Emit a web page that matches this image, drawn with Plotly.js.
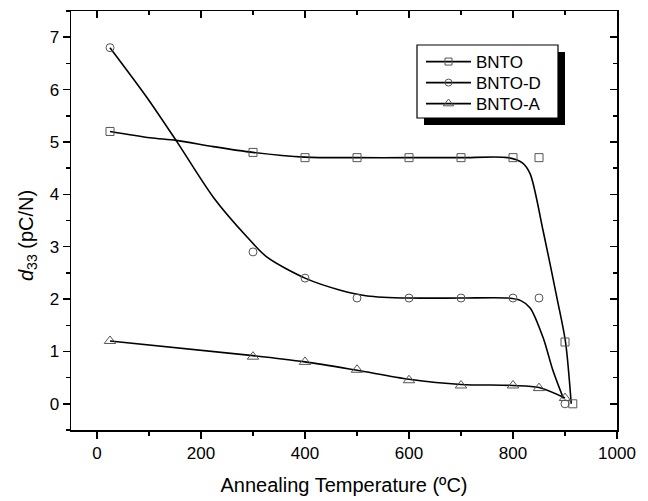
<!DOCTYPE html>
<html>
<head>
<meta charset="utf-8">
<script src="https://cdn.plot.ly/plotly-3.0.1.min.js"></script>
<style>html,body{margin:0;padding:0;background:#fff;}</style>
</head>
<body>
<div id="chart" style="width:648px;height:501px;"></div>
<script>
// Measured data points
var seriesNames = ["BNTO", "BNTO-D", "BNTO-A"];
var bntoX = [25, 300, 400, 500, 600, 700, 800, 850, 900, 915];
var bntoY = [5.2, 4.8, 4.7, 4.7, 4.7, 4.7, 4.7, 4.7, 1.18, 0.0];
var bntoDX = [25, 300, 400, 500, 600, 700, 800, 850, 900];
var bntoDY = [6.8, 2.9, 2.4, 2.02, 2.02, 2.02, 2.02, 2.02, 0.0];
var bntoAX = [25, 300, 400, 500, 600, 700, 800, 850, 900];
var bntoAY = [1.2, 0.9, 0.8, 0.65, 0.45, 0.35, 0.35, 0.3, 0.11];

// Smoothed fit curves
var bntoCurveX = [25, 102, 152, 224, 300, 400, 500, 600, 700, 790, 818, 833, 858, 885, 901, 912];
var bntoCurveY = [5.2, 5.08, 5.03, 4.91, 4.8, 4.71, 4.7, 4.7, 4.7, 4.7, 4.6, 4.39, 3.3, 2.0, 1.18, 0.0];
var bntoDCurveX = [25, 96, 152, 224, 289, 327, 400, 468, 520, 600, 700, 790, 815, 833, 858, 877, 897];
var bntoDCurveY = [6.8, 5.85, 5.03, 3.94, 3.18, 2.8, 2.4, 2.17, 2.06, 2.02, 2.02, 2.02, 1.97, 1.83, 1.26, 0.63, 0.1];
var bntoACurveX = [25, 300, 400, 500, 600, 700, 800, 850, 900];
var bntoACurveY = [1.2, 0.92, 0.8, 0.64, 0.47, 0.37, 0.35, 0.31, 0.11];

var xTitle = "Annealing Temperature (ºC)";
var yTitle = "<i>d</i><sub>33</sub> (pC/N)";

var markerColor = "#555555";
var symbols = ["square-open", "circle-open", "triangle-up-open"];
var sizes = [8, 8, 10];
var pts = [[bntoX, bntoY], [bntoDX, bntoDY], [bntoAX, bntoAY]];
var curves = [[bntoCurveX, bntoCurveY], [bntoDCurveX, bntoDCurveY], [bntoACurveX, bntoACurveY]];
var legendIds = ["legend", "legend2", "legend3"];

var data = [];
for (var i = 0; i < 3; i++) {
  data.push({
    x: curves[i][0], y: curves[i][1], mode: "lines", type: "scatter",
    line: {color: "#000", width: 1.6, shape: "spline", smoothing: 0.8},
    showlegend: false, hoverinfo: "skip"
  });
}
for (var i = 0; i < 3; i++) {
  data.push({
    x: pts[i][0], y: pts[i][1], mode: "markers", type: "scatter",
    marker: {symbol: symbols[i], size: sizes[i], color: markerColor, line: {width: 1, color: markerColor}},
    showlegend: false
  });
}
// legend entries (line-marker-line), one legend per row
for (var i = 0; i < 3; i++) {
  data.push({
    x: [null], y: [null], mode: "lines+markers", type: "scatter", name: seriesNames[i],
    legend: legendIds[i],
    line: {color: "#000", width: 1.8},
    marker: {symbol: symbols[i], size: sizes[i] - 1, color: markerColor, line: {width: 1, color: markerColor}}
  });
}
// dummy trace for top/right axes
data.push({x: [null], y: [null], xaxis: "x2", yaxis: "y2", mode: "markers", showlegend: false, hoverinfo: "skip"});

var xr = [-50, 1000], yr = [-0.5, 7.5];
var font = {family: "Liberation Sans, Arial, sans-serif", size: 17, color: "#000"};

var L = 71, W = 546, T = 11, H = 419;
function px(x) { return (x - L) / W; }
function py(y) { return (T + H - y) / H; }

function legendAt(xpx, ypx) {
  return {
    x: px(xpx), y: py(ypx), xanchor: "left", yanchor: "middle",
    bgcolor: "rgba(0,0,0,0)", borderwidth: 0,
    font: {size: 17}, itemwidth: 45
  };
}

var layout = {
  width: 648, height: 501,
  margin: {l: 71, r: 31, t: 11, b: 71},
  paper_bgcolor: "#fff", plot_bgcolor: "#fff",
  font: font,
  showlegend: true,
  xaxis: {
    range: xr, dtick: 200, tick0: 0, showgrid: false, zeroline: false,
    ticks: "outside", ticklen: 7, tickwidth: 1.5, tickcolor: "#000",
    showline: true, linewidth: 1.5, linecolor: "#000", mirror: true,
    minor: {dtick: 100, tick0: 0, ticks: "outside", ticklen: 4, tickwidth: 1.5, tickcolor: "#000"},
    tickfont: {size: 17},
    title: {text: xTitle, font: {size: 20}, standoff: 16}
  },
  yaxis: {
    range: yr, dtick: 1, tick0: 0, showgrid: false, zeroline: false,
    ticks: "outside", ticklen: 7, tickwidth: 1.5, tickcolor: "#000",
    showline: true, linewidth: 1.5, linecolor: "#000", mirror: true,
    minor: {dtick: 0.5, tick0: 0, ticks: "outside", ticklen: 4, tickwidth: 1.5, tickcolor: "#000"},
    tickfont: {size: 17}
  },
  xaxis2: {
    range: xr, dtick: 200, tick0: 0, overlaying: "x", side: "top", anchor: "y2",
    showgrid: false, zeroline: false, showticklabels: false,
    ticks: "inside", ticklen: 7, tickwidth: 1.5, tickcolor: "#000",
    minor: {dtick: 100, tick0: 0, ticks: "inside", ticklen: 4, tickwidth: 1.5, tickcolor: "#000"}
  },
  yaxis2: {
    range: yr, dtick: 1, tick0: 0, overlaying: "y", side: "right", anchor: "x2",
    showgrid: false, zeroline: false, showticklabels: false,
    ticks: "inside", ticklen: 7, tickwidth: 1.5, tickcolor: "#000",
    minor: {dtick: 0.5, tick0: 0, ticks: "inside", ticklen: 4, tickwidth: 1.5, tickcolor: "#000"}
  },
  legend: legendAt(421, 62),
  legend2: legendAt(421, 83),
  legend3: legendAt(421, 104),
  annotations: [{
    text: yTitle, textangle: -90, xref: "paper", yref: "paper",
    x: px(28), y: py(236), xanchor: "center", yanchor: "middle",
    showarrow: false, font: {size: 20}
  }],
  shapes: [{
    type: "rect", xref: "paper", yref: "paper",
    x0: px(424), x1: px(565), y0: py(125), y1: py(52),
    fillcolor: "#000", line: {width: 0}, layer: "above"
  }, {
    type: "rect", xref: "paper", yref: "paper",
    x0: px(417), x1: px(558), y0: py(118), y1: py(45),
    fillcolor: "#fff", line: {width: 1.2, color: "#000"}, layer: "above"
  }]
};

Plotly.newPlot("chart", data, layout, {displayModeBar: false, staticPlot: true});
</script>
</body>
</html>
